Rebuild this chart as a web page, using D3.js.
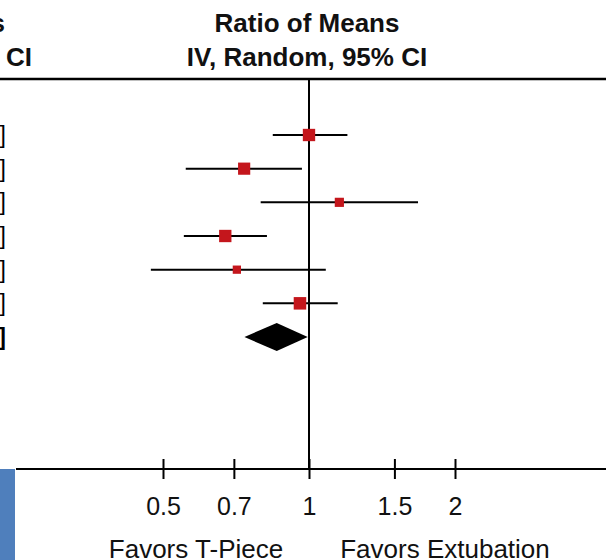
<!DOCTYPE html>
<html>
<head>
<meta charset="utf-8">
<script src="https://cdn.jsdelivr.net/npm/d3@7"></script>
<style>
  body { margin: 0; background: #fff; }
  svg { display: block; font-family: "Liberation Sans", Arial, sans-serif; }
</style>
</head>
<body>
<div id="chart"></div>
<script>
// studies (rows) with ratio of means and 95% CI
const studies = ["Study 1", "Study 2", "Study 3", "Study 4", "Study 5", "Study 6"];
const ratio = [1.00, 0.735, 1.155, 0.672, 0.710, 0.958];
const lower = [0.842, 0.557, 0.795, 0.552, 0.472, 0.803];
const upper = [1.200, 0.967, 1.678, 0.819, 1.083, 1.146];
const weight = [19.0, 18.5, 10.5, 19.0, 8.5, 19.5];

// pooled estimate
const totalLabel = "Total";
const pooled = { est: 0.858, lo: 0.736, hi: 0.994 };

const tickValues = [0.5, 0.7, 1, 1.5, 2];
const headerLines = ["Ratio of Means", "IV, Random, 95% CI"];
const favorsLeft = "Favors T-Piece";
const favorsRight = "Favors Extubation";

const width = 606, height = 560;

const svg = d3.select("#chart").append("svg")
	.attr("width", width)
	.attr("height", height);

/* scales */
const x = d3.scaleLog().domain([0.5, 2]).range([163, 455]);
const y = d3.scalePoint().domain([...studies, totalLabel]).range([135, 337]);
const size = d3.scaleSqrt().domain([0, d3.max(weight)]).range([0, 12.5]);

const fmt = d3.format(".2f");

/* left bit of the previous column (mostly cut off) */
svg.append("rect")
	.attr("x", 0).attr("y", 469)
	.attr("width", 15).attr("height", height - 469)
	.attr("fill", "#4f7fbc");

const header = svg.append("g").attr("font-weight", "bold").attr("font-size", 26)
	.attr("fill", "#111");
// previous column header, right ends just showing
header.append("text").attr("x", 5).attr("y", 32).attr("text-anchor", "end").text(headerLines[0]);
header.append("text").attr("x", 32).attr("y", 66).attr("text-anchor", "end").text(headerLines[1]);
// this column's header
headerLines.forEach((t, i) => {
	header.append("text").attr("x", 307).attr("y", 32 + i * 34)
		.attr("text-anchor", "middle").text(t);
});

/* header rule */
svg.append("line")
	.attr("x1", 0).attr("x2", width)
	.attr("y1", 79).attr("y2", 79)
	.attr("stroke", "#000").attr("stroke-width", 2.5);

/* CI text in the previous column, right aligned */
const ciText = svg.append("g").attr("font-size", 23).attr("text-anchor", "end");
studies.forEach((s, i) => {
	ciText.append("text")
		.attr("x", 6).attr("y", y(s) + 8)
		.text(`${fmt(ratio[i])} [${fmt(lower[i])}, ${fmt(upper[i])}]`);
});
ciText.append("text")
	.attr("x", 6).attr("y", y(totalLabel) + 8)
	.attr("font-weight", "bold")
	.text(`${fmt(pooled.est)} [${fmt(pooled.lo)}, ${fmt(pooled.hi)}]`);

/* line of no effect */
svg.append("line")
	.attr("x1", x(1)).attr("x2", x(1))
	.attr("y1", 80).attr("y2", 469)
	.attr("stroke", "#000").attr("stroke-width", 2);

/* study rows */
const rows = svg.append("g").selectAll("g")
	.data(studies.map((s, i) => ({ s, r: ratio[i], lo: lower[i], hi: upper[i], w: weight[i] })))
	.join("g");

rows.append("line")
	.attr("x1", d => x(d.lo)).attr("x2", d => x(d.hi))
	.attr("y1", d => y(d.s)).attr("y2", d => y(d.s))
	.attr("stroke", "#000").attr("stroke-width", 2);

rows.append("rect")
	.attr("x", d => x(d.r) - size(d.w) / 2)
	.attr("y", d => y(d.s) - size(d.w) / 2)
	.attr("width", d => size(d.w))
	.attr("height", d => size(d.w))
	.attr("fill", "#c4161c");

/* pooled diamond */
const yt = y(totalLabel);
svg.append("path")
	.attr("d", `M${x(pooled.lo)},${yt} L${x(pooled.est)},${yt - 14} L${x(pooled.hi)},${yt} L${x(pooled.est)},${yt + 14} Z`)
	.attr("fill", "#000");

/* x axis */
const axisY = 469;
svg.append("line")
	.attr("x1", 16).attr("x2", width)
	.attr("y1", axisY).attr("y2", axisY)
	.attr("stroke", "#000").attr("stroke-width", 2);

const axis = svg.append("g")
	.attr("transform", `translate(0,${axisY})`)
	.call(d3.axisBottom(x).tickValues(tickValues).tickFormat(d3.format("")).tickSize(10));

axis.select(".domain").remove();
axis.selectAll(".tick line")
	.attr("y1", -10).attr("y2", 10)
	.attr("stroke", "#000").attr("stroke-width", 2);
axis.selectAll(".tick text")
	.attr("y", 46).attr("dy", 0)
	.attr("font-size", 25)
	.attr("font-family", "Liberation Sans, Arial, sans-serif")
	.attr("fill", "#111");

/* favours labels */
const fav = svg.append("g").attr("font-size", 26).attr("fill", "#111").attr("text-anchor", "middle");
fav.append("text").attr("x", 196).attr("y", 558).text(favorsLeft);
fav.append("text").attr("x", 445).attr("y", 558).text(favorsRight);
</script>
</body>
</html>
